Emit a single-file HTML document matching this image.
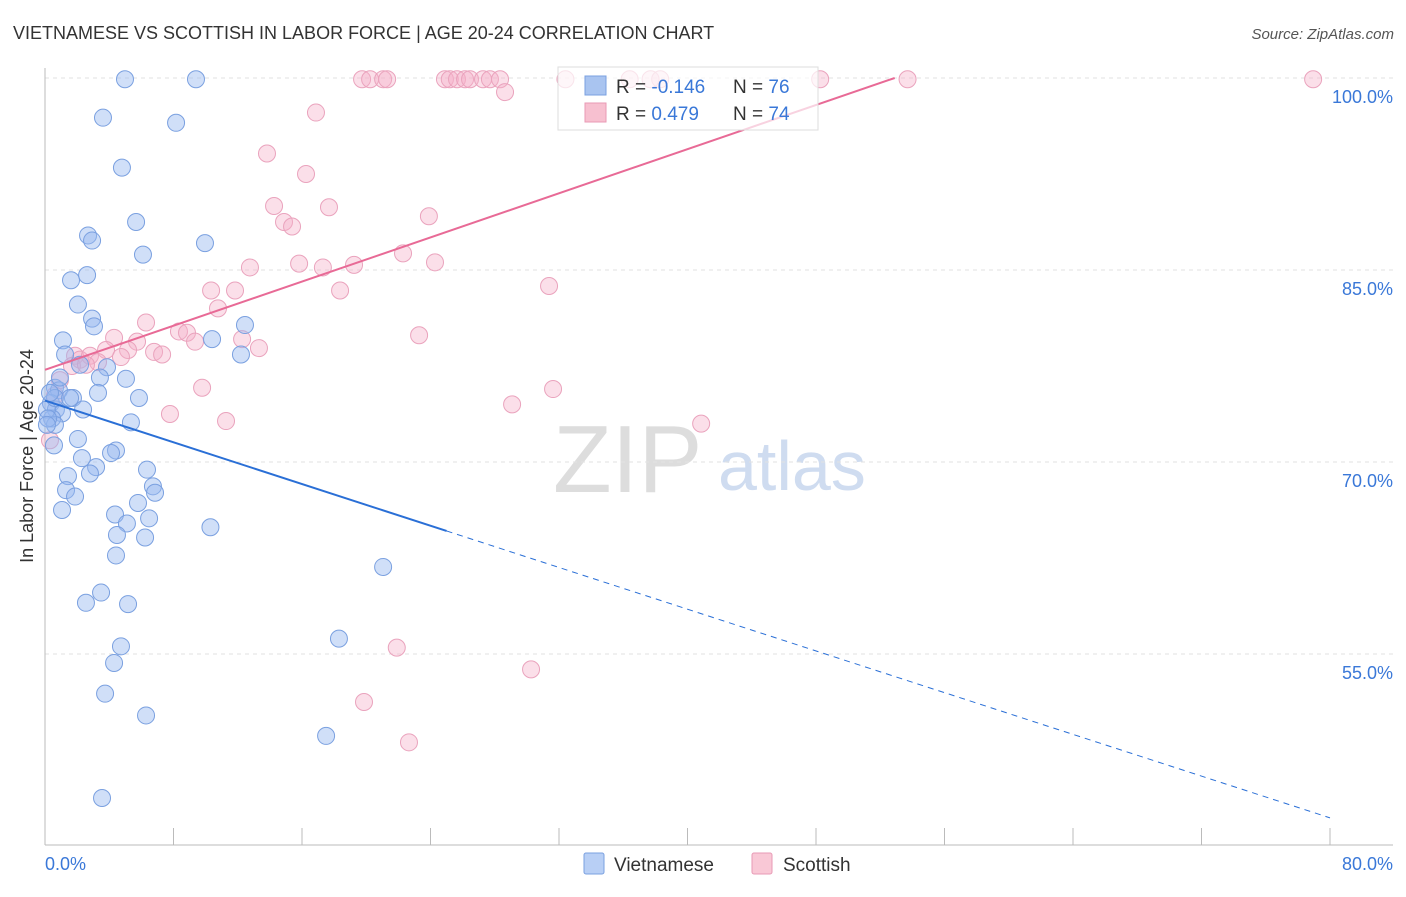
<!DOCTYPE html>
<html><head><meta charset="utf-8"><style>
body{margin:0;background:#fff;font-family:"Liberation Sans",sans-serif;}
svg text{font-family:"Liberation Sans",sans-serif;}
</style></head><body>
<svg id="chart" width="1406" height="892" viewBox="0 0 1406 892">
<text x="13" y="39" font-size="18" fill="#333">VIETNAMESE VS SCOTTISH IN LABOR FORCE | AGE 20-24 CORRELATION CHART</text>
<text x="1394" y="39" font-size="15" fill="#555" font-style="italic" text-anchor="end">Source: ZipAtlas.com</text>
<g>
<text x="553" y="492" font-size="96" font-family="Liberation Serif" fill="#ddd">ZIP</text>
<text x="718" y="490" font-size="70" fill="#cfdcf0">atlas</text>
</g>
<g id="grid"></g>
<g id="axes"></g>
<g id="pts"></g>
<g id="trends"></g>
<g>
<rect x="558" y="67" width="260" height="63" fill="#fff" fill-opacity="0.7" stroke="#ddd"/>
<rect x="585" y="76" width="21" height="19" fill="#a9c4f0" stroke="#7aa0e0"/>
<text x="616" y="93" font-size="19" fill="#333">R = <tspan fill="#3a78d8">-0.146</tspan></text>
<text x="733" y="93" font-size="19" fill="#333">N = <tspan fill="#3a78d8">76</tspan></text>
<rect x="585" y="103" width="21" height="19" fill="#f7c0d0" stroke="#e89ab5"/>
<text x="616" y="120" font-size="19" fill="#333">R =  <tspan fill="#3a78d8">0.479</tspan></text>
<text x="733" y="120" font-size="19" fill="#333">N = <tspan fill="#3a78d8">74</tspan></text>
</g>
<g>
<rect x="584" y="853" width="20" height="21" rx="2" fill="#b8cff5" stroke="#7aa0e0"/>
<text x="614" y="871" font-size="19" fill="#333">Vietnamese</text>
<rect x="752" y="853" width="20" height="21" rx="2" fill="#f9c8d6" stroke="#e89ab5"/>
<text x="783" y="871" font-size="19" fill="#333">Scottish</text>
</g>
</svg>
<script>
const yTicks=[100,85,70,55];
const xTickLabels=["0.0%","80.0%"];
const blueX=[4.98,9.4,3.61,8.16,4.79,5.67,2.68,2.93,9.96,6.1,1.62,2.62,2.05,2.93,3.05,12.45,1.12,10.4,1.25,12.2,2.18,3.86,3.42,5.04,0.62,0.87,1.74,3.3,5.85,0.37,0.68,1.06,2.37,0.44,5.35,0.62,2.05,0.56,4.42,2.3,4.11,3.18,6.35,2.8,1.43,6.72,1.31,6.85,1.87,5.79,1.06,4.36,6.48,5.1,10.3,4.48,6.23,4.42,21.05,3.49,2.55,5.17,4.73,18.3,4.3,3.74,6.29,17.5,3.55,0.12,0.19,0.62,0.31,0.93,1.56,0.12];
const blueY=[99.9,99.9,96.9,96.5,93,88.75,87.7,87.3,87.1,86.2,84.2,84.6,82.3,81.2,80.6,80.7,79.5,79.6,78.4,78.4,77.6,77.4,76.6,76.5,75.8,75.6,75,75.4,75,74.6,74.1,73.8,74.1,73.4,73.1,72.9,71.8,71.3,70.9,70.3,70.7,69.6,69.4,69.1,68.9,68.1,67.8,67.6,67.3,66.8,66.25,65.9,65.6,65.2,64.9,64.3,64.1,62.7,61.8,59.8,59,58.9,55.6,56.2,54.3,51.9,50.2,48.6,43.75,74.1,73.4,75,75.4,76.6,75,72.9];
const pinkX=[19.74,20.24,21.05,21.3,24.9,25.2,25.65,26.15,26.46,27.27,27.7,28.33,32.4,36.4,37.7,38.3,48.26,53.7,78.95,28.64,16.87,13.82,16.25,14.26,17.68,23.9,14.88,15.38,12.76,15.82,17.3,19.24,22.29,24.28,31.38,10.34,11.83,18.37,10.77,6.29,8.34,8.84,23.29,4.3,12.27,13.32,5.73,5.17,9.34,6.79,7.29,3.8,1.87,2.18,2.8,3.3,4.73,1.68,2.55,9.78,31.63,29.08,7.78,11.27,40.85,0.93,0.62,0.31,21.9,30.26,19.86,22.66];
const pinkY=[99.9,99.9,99.9,99.9,99.9,99.9,99.9,99.9,99.9,99.9,99.9,99.9,99.9,99.9,99.9,99.9,99.9,99.9,99.9,98.9,97.3,94.1,92.5,90,89.9,89.2,88.75,88.4,85.2,85.5,85.2,85.4,86.3,85.6,83.75,83.4,83.4,83.4,82,80.9,80.2,80.1,79.9,79.7,79.6,78.9,79.4,78.75,79.4,78.6,78.4,78.75,78.3,78,78.3,77.8,78.2,77.5,77.6,75.8,75.7,74.5,73.75,73.2,73,76.4,75.2,71.7,55.5,53.8,51.25,48.1];
const blueTrend=[74.8,42.2];
const blueSolidEnd=25;
const pinkTrend=[77.2,100];
const pinkEnd=52.9;

const NS="http://www.w3.org/2000/svg";
const X0=45,XS=1285/80,Y0=78,YS=12.8;
function sx(v){return X0+v*XS;}
function sy(v){return Y0+(100-v)*YS;}
function mk(t,a,p){const e=document.createElementNS(NS,t);for(const k in a)e.setAttribute(k,a[k]);p.appendChild(e);return e;}
const grid=document.getElementById('grid'),axes=document.getElementById('axes'),pts=document.getElementById('pts'),tr=document.getElementById('trends');
yTicks.forEach(v=>{
 const l=mk('line',{x1:45,x2:1393,y1:sy(v),y2:sy(v),stroke:'#e2e2e2','stroke-dasharray':'4,4'},grid);
 
 
 const t=mk('text',{x:1393,y:sy(v)+25,'font-size':18,fill:'#3a78d8','text-anchor':'end'},axes);
 t.textContent=v.toFixed(1)+'%';
 
 
});
const ya=mk('line',{x1:45,x2:45,y1:68,y2:845,stroke:'#bbb'},axes);


const xa=mk('line',{x1:45,x2:1393,y1:845,y2:845,stroke:'#bbb'},axes);


for(let i=0;i<=10;i++){
 const tk=mk('line',{x1:sx(i*8),x2:sx(i*8),y1:828,y2:845,stroke:'#bbb'},axes);
 
 
}
const xl0=mk('text',{x:45,y:870,'font-size':18,fill:'#3a78d8'},axes);xl0.textContent=xTickLabels[0];


const xl1=mk('text',{x:1393,y:870,'font-size':18,fill:'#3a78d8','text-anchor':'end'},axes);xl1.textContent=xTickLabels[1];


const yt=mk('text',{x:0,y:0,'font-size':18,fill:'#333','text-anchor':'middle',transform:'translate(33,456) rotate(-90)'},axes);yt.textContent='In Labor Force | Age 20-24';


pinkX.forEach((x,i)=>{
 const c=mk('circle',{cx:sx(x),cy:sy(pinkY[i]),r:8.5,fill:'rgba(245,175,200,0.4)',stroke:'#eaa3bd','stroke-width':1},pts);
 
 
});
blueX.forEach((x,i)=>{
 const c=mk('circle',{cx:sx(x),cy:sy(blueY[i]),r:8.5,fill:'rgba(150,185,240,0.45)',stroke:'#7aa0e0','stroke-width':1},pts);
 
 
});
function ly(a,x){return a[0]+(a[1]-a[0])*x/80;}
const b1=mk('line',{x1:sx(0),y1:sy(ly(blueTrend,0)),x2:sx(blueSolidEnd),y2:sy(ly(blueTrend,blueSolidEnd)),stroke:'#2a6fd6','stroke-width':2},tr);


const b2=mk('line',{x1:sx(blueSolidEnd),y1:sy(ly(blueTrend,blueSolidEnd)),x2:sx(80),y2:sy(ly(blueTrend,80)),stroke:'#2a6fd6','stroke-width':1,'stroke-dasharray':'6,5'},tr);


const p1=mk('line',{x1:sx(0),y1:sy(pinkTrend[0]),x2:sx(pinkEnd),y2:sy(pinkTrend[1]),stroke:'#e86a96','stroke-width':2},tr);


</script>
</body></html>
